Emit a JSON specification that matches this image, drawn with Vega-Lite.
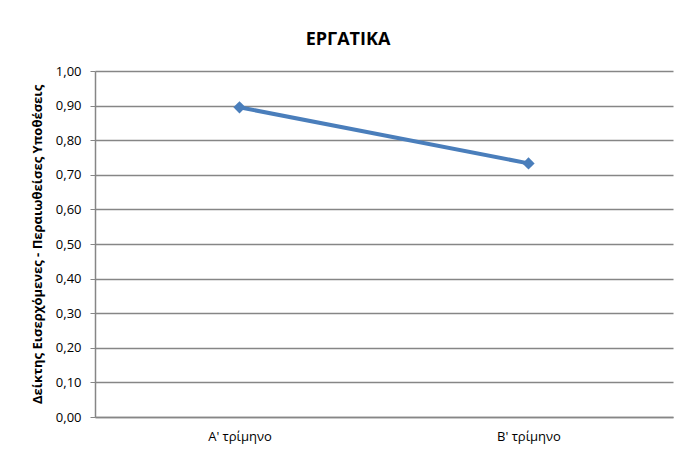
{
  "$schema": "https://vega.github.io/schema/vega-lite/v6.json",
  "autosize": "none",
  "width": 578,
  "height": 346,
  "padding": {"left": 95, "top": 71, "right": 7, "bottom": 33},
  "background": "white",
  "title": {
    "text": "ΕΡΓΑΤΙΚΑ",
    "font": "Open Sans",
    "fontSize": 18,
    "fontWeight": "bold",
    "color": "#000000",
    "anchor": "middle",
    "dx": -36,
    "offset": 16
  },
  "data": {
    "values": [
      {"period": "Α'  τρίμηνο", "value": 0.895},
      {"period": "Β' τρίμηνο", "value": 0.733}
    ]
  },
  "encoding": {
    "x": {
      "field": "period",
      "type": "nominal",
      "sort": null,
      "scale": {"paddingInner": 0, "paddingOuter": 0},
      "axis": {
        "title": null,
        "labelAngle": 0,
        "labelFont": "Open Sans",
        "labelFontSize": 13,
        "labelColor": "#000000",
        "labelPadding": 13,
        "ticks": false,
        "domain": true,
        "domainColor": "#868686",
        "domainWidth": 1.5,
        "grid": false
      }
    },
    "y": {
      "field": "value",
      "type": "quantitative",
      "scale": {"domain": [0, 1], "nice": false, "zero": true},
      "axis": {
        "title": "Δείκτης Εισερχόμενες - Περαιωθείσες Υποθέσεις",
        "titleFont": "Open Sans",
        "titleFontSize": 13,
        "titleFontWeight": "bold",
        "titleColor": "#000000",
        "titlePadding": 11,
        "values": [0, 0.1, 0.2, 0.3, 0.4, 0.5, 0.6, 0.7, 0.8, 0.9, 1.0],
        "labelExpr": "replace(format(datum.value, '.2f'), '.', ',')",
        "labelFont": "Open Sans",
        "labelFontSize": 13,
        "labelColor": "#000000",
        "labelPadding": 9,
        "ticks": true,
        "tickSize": 5,
        "tickColor": "#868686",
        "domain": true,
        "domainColor": "#868686",
        "domainWidth": 1.5,
        "grid": true,
        "gridColor": "#868686",
        "gridWidth": 1.5
      }
    }
  },
  "layer": [
    {
      "mark": {"type": "line", "color": "#4A7EBB", "strokeWidth": 4}
    },
    {
      "mark": {"type": "point", "shape": "diamond", "filled": true, "color": "#4A7EBB", "size": 150, "opacity": 1}
    }
  ],
  "config": {"view": {"stroke": null}}
}
